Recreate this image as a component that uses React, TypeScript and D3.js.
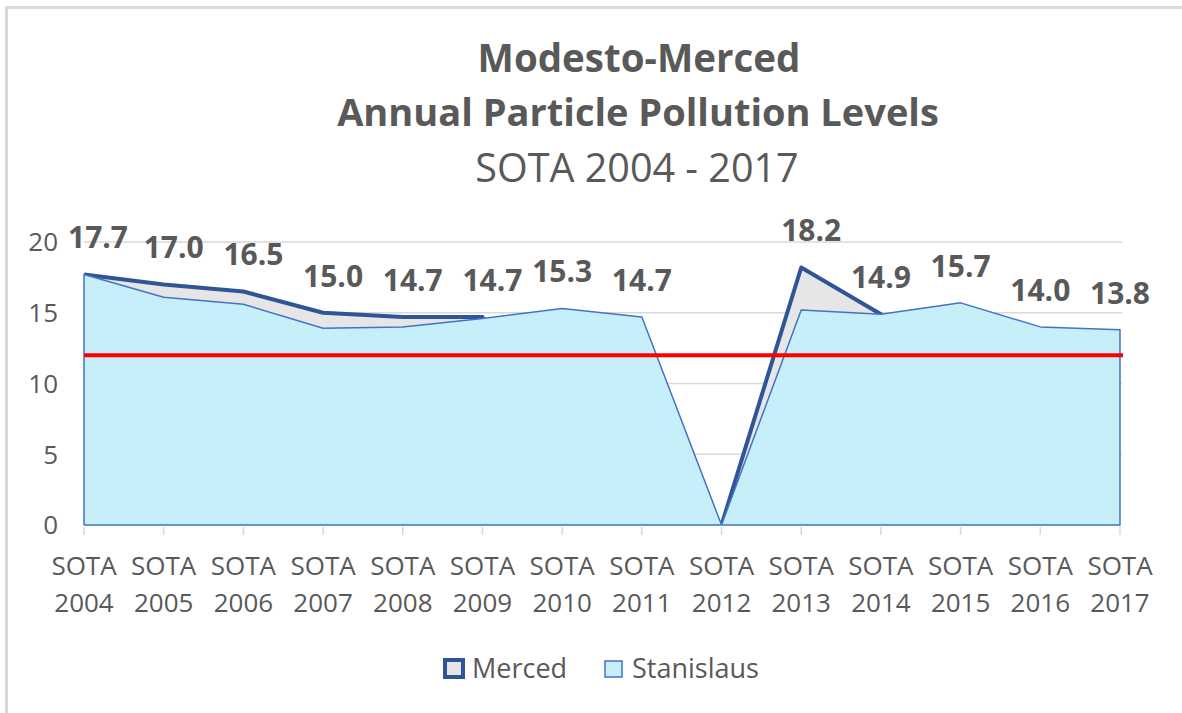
import React from "react";
import * as d3 from "d3";

const years = ["2004", "2005", "2006", "2007", "2008", "2009", "2010", "2011", "2012", "2013", "2014", "2015", "2016", "2017"];
const categoryPrefix = "SOTA";
// blanks are plotted as zero (Excel area chart behaviour)
const merced: (number | null)[] = [17.7, 17.0, 16.5, 15.0, 14.7, 14.7, null, null, null, 18.2, 14.9, null, null, null];
const stanislaus: (number | null)[] = [17.7, 16.1, 15.6, 13.9, 14.0, 14.6, 15.3, 14.7, null, 15.2, 14.9, 15.7, 14.0, 13.8];
const labelValues: (number | null)[] = [17.7, 17.0, 16.5, 15.0, 14.7, 14.7, 15.3, 14.7, null, 18.2, 14.9, 15.7, 14.0, 13.8];
const labelSeries = ["Merced", "Merced", "Merced", "Merced", "Merced", "Merced", "Stanislaus", "Stanislaus", "", "Merced", "Stanislaus", "Stanislaus", "Stanislaus", "Stanislaus"];
const yTicks = [0, 5, 10, 15, 20];
const standardValue = 12;
const titleLines = ["Modesto-Merced", "Annual Particle Pollution Levels"];
const subtitle = "SOTA 2004 - 2017";
const seriesNames = ["Merced", "Stanislaus"];

const W = 1182;
const H = 713;
const FONT = "'Open Sans', 'Noto Sans', sans-serif";
const TEXT = "#595959";

export default function App() {
  const x = d3.scalePoint<string>().domain(years).range([84, 1120]);
  const y = d3.scaleLinear().domain([0, 20]).range([525, 242]);
  const v = (d: number | null) => (d == null ? 0 : d);

  const area = d3
    .area<number | null>()
    .x((_, i) => x(years[i]) as number)
    .y0(y(0))
    .y1((d) => y(v(d)));
  const line = d3
    .line<number | null>()
    .x((_, i) => x(years[i]) as number)
    .y((d) => y(v(d)));

  const x0 = x(years[0]) as number;
  const x1 = x(years[years.length - 1]) as number;

  return (
    <svg
      width={W}
      height={H}
      style={{ position: "absolute", left: 0, top: 0, background: "#fff" }}
      fontFamily={FONT}
    >
      <defs>
        <clipPath id="plotClip">
          <rect x={x0 - 10} y={0} width={x1 - x0 + 20} height={y(0) - 1} />
        </clipPath>
      </defs>
      <rect x={0} y={0} width={W} height={H} fill="#fff" />
      {/* chart border */}
      <line x1={6.5} y1={6} x2={6.5} y2={H} stroke="#d9d9d9" strokeWidth={3} />
      <line x1={5} y1={7.5} x2={W} y2={7.5} stroke="#d9d9d9" strokeWidth={3} />

      {/* titles */}
      <text x={639} y={72} textAnchor="middle" fontSize={38.5} fontWeight={700} fill={TEXT}>
        {titleLines[0]}
      </text>
      <text x={638} y={126} textAnchor="middle" fontSize={38} fontWeight={700} fill={TEXT}>
        {titleLines[1]}
      </text>
      <text x={637} y={182} textAnchor="middle" fontSize={39.5} fontWeight={400} fill={TEXT}>
        {subtitle}
      </text>

      {/* gridlines */}
      {yTicks.filter((t) => t > 0).map((t) => (
        <line key={t} x1={x0} x2={x1 + 2} y1={y(t)} y2={y(t)} stroke="#d9d9d9" strokeWidth={1.5} />
      ))}

      {/* y tick labels */}
      {yTicks.map((t) => (
        <text key={t} x={58} y={y(t)} dy="0.36em" textAnchor="end" fontSize={26} fill={TEXT}>
          {t}
        </text>
      ))}

      {/* Merced area */}
      <path d={area(merced) || ""} fill="#e7e6e6" />
      <path
        d={line(merced) || ""}
        fill="none"
        stroke="#2f5597"
        strokeWidth={4}
        strokeLinejoin="round"
        clipPath="url(#plotClip)"
      />

      {/* Stanislaus area */}
      <path d={area(stanislaus) || ""} fill="#c6effa" stroke="#4472c4" strokeWidth={1.5} strokeLinejoin="round" />

      {/* x axis ticks */}
      {years.map((yr) => (
        <line key={yr} x1={x(yr)} x2={x(yr)} y1={y(0) + 2} y2={y(0) + 10} stroke="#d9d9d9" strokeWidth={1.5} />
      ))}

      {/* standard line */}
      <line x1={x0} x2={x1 + 3} y1={y(standardValue)} y2={y(standardValue)} stroke="#ff0000" strokeWidth={4} />

      {/* x labels */}
      {years.map((yr) => (
        <g key={yr} transform={`translate(${x(yr)},0)`}>
          <text x={0} y={575} textAnchor="middle" fontSize={26} fill={TEXT}>
            {categoryPrefix}
          </text>
          <text x={0} y={612} textAnchor="middle" fontSize={26} fill={TEXT}>
            {yr}
          </text>
        </g>
      ))}

      {/* data labels */}
      {labelValues.map((d, i) =>
        d == null ? null : (
          <text
            key={i}
            x={(x(years[i]) as number) + (labelSeries[i] === "Merced" ? 10 : 0) + (i === 0 ? 4 : 0)}
            y={y(d) - 37}
            dy="0.36em"
            textAnchor="middle"
            fontSize={30}
            fontWeight={700}
            fill={TEXT}
          >
            {d.toFixed(1)}
          </text>
        )
      )}

      {/* legend */}
      <rect x={445} y={660} width={18} height={17} fill="#e7e6e6" stroke="#2f5597" strokeWidth={4} />
      <text x={472} y={678} fontSize={27} fill={TEXT}>
        {seriesNames[0]}
      </text>
      <rect x={605} y={661} width={17} height={16} fill="#c6effa" stroke="#4472c4" strokeWidth={1.5} />
      <text x={632} y={678} fontSize={27} fill={TEXT}>
        {seriesNames[1]}
      </text>
    </svg>
  );
}
